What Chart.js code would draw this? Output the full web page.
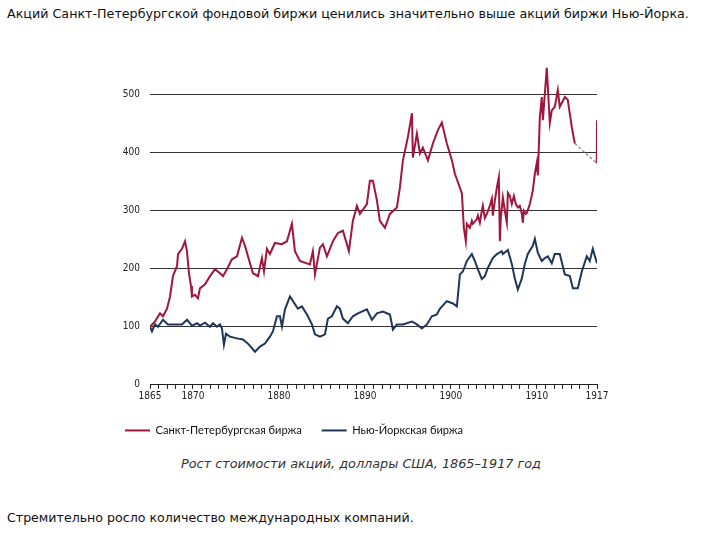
<!DOCTYPE html>
<html>
<head>
<meta charset="utf-8">
<script src="https://cdn.jsdelivr.net/npm/chart.js@4.4.1/dist/chart.umd.min.js"></script>
<style>
    body { margin: 0; background: #fff; width: 728px; height: 540px; position: relative; overflow: hidden; }
    .txt { position: absolute; left: 7px; font-family: 'DejaVu Sans', sans-serif; color: #111; white-space: nowrap; }
    #top-text { top: 6px; font-size: 12.7px; }
    #bottom-text { top: 510px; font-size: 12.6px; }
    #caption { position: absolute; top: 456px; left: 0; width: 722px; text-align: center; font-family: 'DejaVu Sans', sans-serif; font-style: italic; font-size: 12.8px; color: #333; }
    #chart-wrap { position: absolute; left: 105px; top: 49px; width: 510px; height: 397px; }
</style>
</head>
<body>
<div class="txt" id="top-text">Акций Санкт-Петербургской фондовой биржи ценились значительно выше акций биржи Нью-Йорка.</div>
<div id="chart-wrap"><canvas id="stocks-chart"></canvas></div>
<div id="caption">Рост стоимости акций, доллары США, 1865–1917 год</div>
<div class="txt" id="bottom-text">Стремительно росло количество международных компаний.</div>

<script>
// Stock values, USD
const spbYears = [1865.00, 1865.58, 1866.16, 1866.51, 1866.98, 1867.33, 1867.67, 1868.14, 1868.26, 1868.72,
    1869.07, 1869.30, 1869.53, 1869.77, 1869.88, 1870.23, 1870.58, 1870.81, 1871.40, 1871.98,
    1872.56, 1873.14, 1873.49, 1873.95, 1874.53, 1875.12, 1875.70, 1876.05, 1876.63, 1876.98,
    1877.56, 1878.02, 1878.26, 1878.60, 1878.95, 1879.53, 1880.35, 1880.93, 1881.51, 1881.86,
    1882.44, 1883.60, 1883.95, 1884.19, 1884.77, 1885.12, 1885.58, 1886.28, 1886.86, 1887.44,
    1888.14, 1888.60, 1889.07, 1889.42, 1890.23, 1890.58, 1890.93, 1891.40, 1891.74, 1892.33,
    1892.91, 1893.72, 1894.07, 1894.42, 1895.00, 1895.47, 1895.58, 1896.05, 1896.40, 1896.74,
    1897.33, 1897.91, 1898.49, 1898.95, 1899.53, 1899.88, 1900.12, 1900.47, 1901.05, 1901.28,
    1901.40, 1901.51, 1901.74, 1901.86, 1902.21, 1902.44, 1902.56, 1903.02, 1903.14, 1903.37,
    1903.60, 1903.72, 1903.95, 1904.19, 1904.53, 1904.77, 1904.88, 1905.12, 1905.35, 1905.58,
    1905.70, 1905.81, 1906.05, 1906.28, 1906.51, 1906.63, 1906.86, 1907.09, 1907.33, 1907.56,
    1907.79, 1908.02, 1908.26, 1908.37, 1908.49, 1908.72, 1908.84, 1909.19, 1909.53, 1909.77,
    1910.00, 1910.12, 1910.35, 1910.58, 1910.70, 1911.16, 1911.51, 1911.74, 1912.09, 1912.44,
    1912.67, 1913.26, 1913.60, 1914.07, 1914.42, 1915.70, 1916.97, 1917.00];
const spbValues = [100, 109, 123, 118, 131, 152, 187, 204, 225, 234,
    247, 230, 192, 170, 152, 155, 149, 166, 173, 187,
    199, 192, 187, 199, 216, 221, 253, 239, 209, 192,
    187, 218, 195, 234, 225, 244, 242, 247, 277, 230,
    213, 207, 230, 190, 236, 242, 221, 247, 261, 265,
    230, 282, 308, 294, 311, 351, 351, 317, 282, 270,
    294, 305, 339, 386, 426, 467, 391, 432, 398, 408,
    386, 415, 438, 451, 415, 398, 386, 363, 339, 329,
    299, 270, 247, 277, 270, 282, 277, 285, 291, 279,
    299, 308, 287, 294, 308, 320, 291, 317, 339, 357,
    247, 287, 322, 299, 279, 330, 325, 311, 325, 311,
    305, 308, 294, 279, 299, 294, 296, 311, 334, 363,
    382, 360, 460, 495, 455, 545, 450, 472, 478, 507,
    478, 495, 490, 443, 415, null, 381, 455];

const nyYears = [1865.00, 1865.23, 1865.58, 1865.93, 1866.51, 1867.09, 1867.91, 1868.72, 1869.30, 1869.88,
    1870.47, 1870.81, 1871.40, 1871.98, 1872.33, 1872.79, 1873.14, 1873.37, 1873.60, 1873.84,
    1874.30, 1875.12, 1875.81, 1876.40, 1877.21, 1877.79, 1878.37, 1878.95, 1879.30, 1879.77,
    1880.12, 1880.35, 1880.70, 1881.28, 1881.63, 1882.21, 1882.67, 1883.26, 1883.84, 1884.19,
    1884.77, 1885.35, 1885.70, 1886.16, 1886.74, 1887.09, 1887.44, 1888.02, 1888.60, 1889.19,
    1890.23, 1890.81, 1891.40, 1892.09, 1892.91, 1893.26, 1893.72, 1894.42, 1895.47, 1896.05,
    1896.63, 1897.21, 1897.79, 1898.37, 1898.72, 1899.53, 1900.23, 1900.70, 1901.05, 1901.40,
    1901.86, 1902.44, 1902.79, 1903.14, 1903.60, 1903.95, 1904.30, 1904.88, 1905.35, 1905.93,
    1906.05, 1906.63, 1907.09, 1907.44, 1907.79, 1908.26, 1908.60, 1908.95, 1909.53, 1909.77,
    1910.12, 1910.58, 1910.93, 1911.28, 1911.74, 1912.09, 1912.67, 1913.26, 1913.84, 1914.19,
    1914.77, 1915.23, 1915.81, 1916.16, 1916.51, 1917.00];
const nyValues = [100, 92, 104, 100, 112, 104, 104, 104, 112, 102,
    106, 102, 107, 100, 106, 100, 104, 97, 69, 88,
    83, 80, 78, 71, 57, 66, 71, 83, 92, 118,
    118, 100, 130, 152, 144, 131, 135, 121, 104, 87,
    83, 87, 114, 118, 135, 131, 114, 106, 118, 123,
    130, 112, 123, 126, 121, 95, 104, 104, 109, 104,
    97, 104, 118, 121, 131, 144, 140, 135, 190, 195,
    213, 225, 213, 199, 182, 187, 201, 218, 225, 230,
    225, 232, 208, 183, 164, 183, 208, 225, 239, 251,
    227, 213, 218, 221, 209, 225, 225, 190, 187, 166,
    166, 195, 221, 213, 234, 209];

// missing quotes (exchange closed) - dashed link
const gapYears = [1914.42, 1916.97];
const gapValues = [415, 381];

const yearLabels = [1865, 1870, 1880, 1890, 1900, 1910, 1917];
const valueTicks = [0, 100, 200, 300, 400, 500];

function toPoints(xs, ys) {
    return xs.map((x, i) => ({ x: x, y: ys[i] }));
}

const narrowFont = "'Liberation Sans Narrow', 'DejaVu Sans Condensed', sans-serif";
Chart.defaults.font.family = "Lato, 'Liberation Sans', sans-serif";
Chart.defaults.color = '#222';

const ctx = document.getElementById('stocks-chart').getContext('2d');
const stocksChart = new Chart(ctx, {
    type: 'line',
    data: {
        datasets: [{
            label: 'Санкт-Петербургская биржа',
            data: toPoints(spbYears, spbValues),
            borderColor: '#a0173d',
            backgroundColor: '#a0173d',
            borderWidth: 2,
            pointRadius: 0,
            tension: 0,
            spanGaps: false
        }, {
            label: 'Нью-Йоркская биржа',
            data: toPoints(nyYears, nyValues),
            borderColor: '#1e3658',
            backgroundColor: '#1e3658',
            borderWidth: 2,
            pointRadius: 0,
            tension: 0
        }, {
            label: 'gap',
            data: toPoints(gapYears, gapValues),
            borderColor: '#9a9a9a',
            borderWidth: 1.5,
            borderDash: [3, 2],
            pointRadius: 0
        }]
    },
    options: {
        responsive: true,
        maintainAspectRatio: false,
        animation: false,
        layout: { padding: { top: 10, right: 18, left: 0, bottom: 0 } },
        plugins: {
            tooltip: { enabled: false },
            legend: {
                position: 'bottom',
                align: 'start',
                labels: {
                    usePointStyle: true,
                    pointStyle: 'line',
                    pointStyleWidth: 25,
                    padding: 20,
                    color: '#111',
                    font: { size: 11.1 },
                    filter: item => item.text !== 'gap'
                }
            }
        },
        scales: {
            x: {
                type: 'linear',
                min: 1865,
                max: 1917,
                afterFit: scale => { scale.height = 20; },
                ticks: {
                    stepSize: 1,
                    autoSkip: false,
                    maxRotation: 0,
                    padding: 2,
                    font: { family: narrowFont, size: 10 },
                    callback: value => yearLabels.includes(value) ? String(value) : ''
                },
                grid: {
                    drawOnChartArea: false,
                    drawTicks: true,
                    tickLength: 4,
                    color: '#222'
                },
                border: { display: true, color: '#222', width: 1 }
            },
            y: {
                min: 0,
                max: 550,
                afterFit: scale => { scale.width = 45; },
                afterBuildTicks: scale => { scale.ticks = valueTicks.map(v => ({ value: v })); },
                ticks: {
                    padding: 10,
                    font: { family: narrowFont, size: 10 }
                },
                grid: {
                    drawTicks: false,
                    color: c => c.tick.value === 0 ? 'rgba(0,0,0,0)' : '#333'
                },
                border: { display: false }
            }
        }
    }
});
</script>
</body>
</html>
